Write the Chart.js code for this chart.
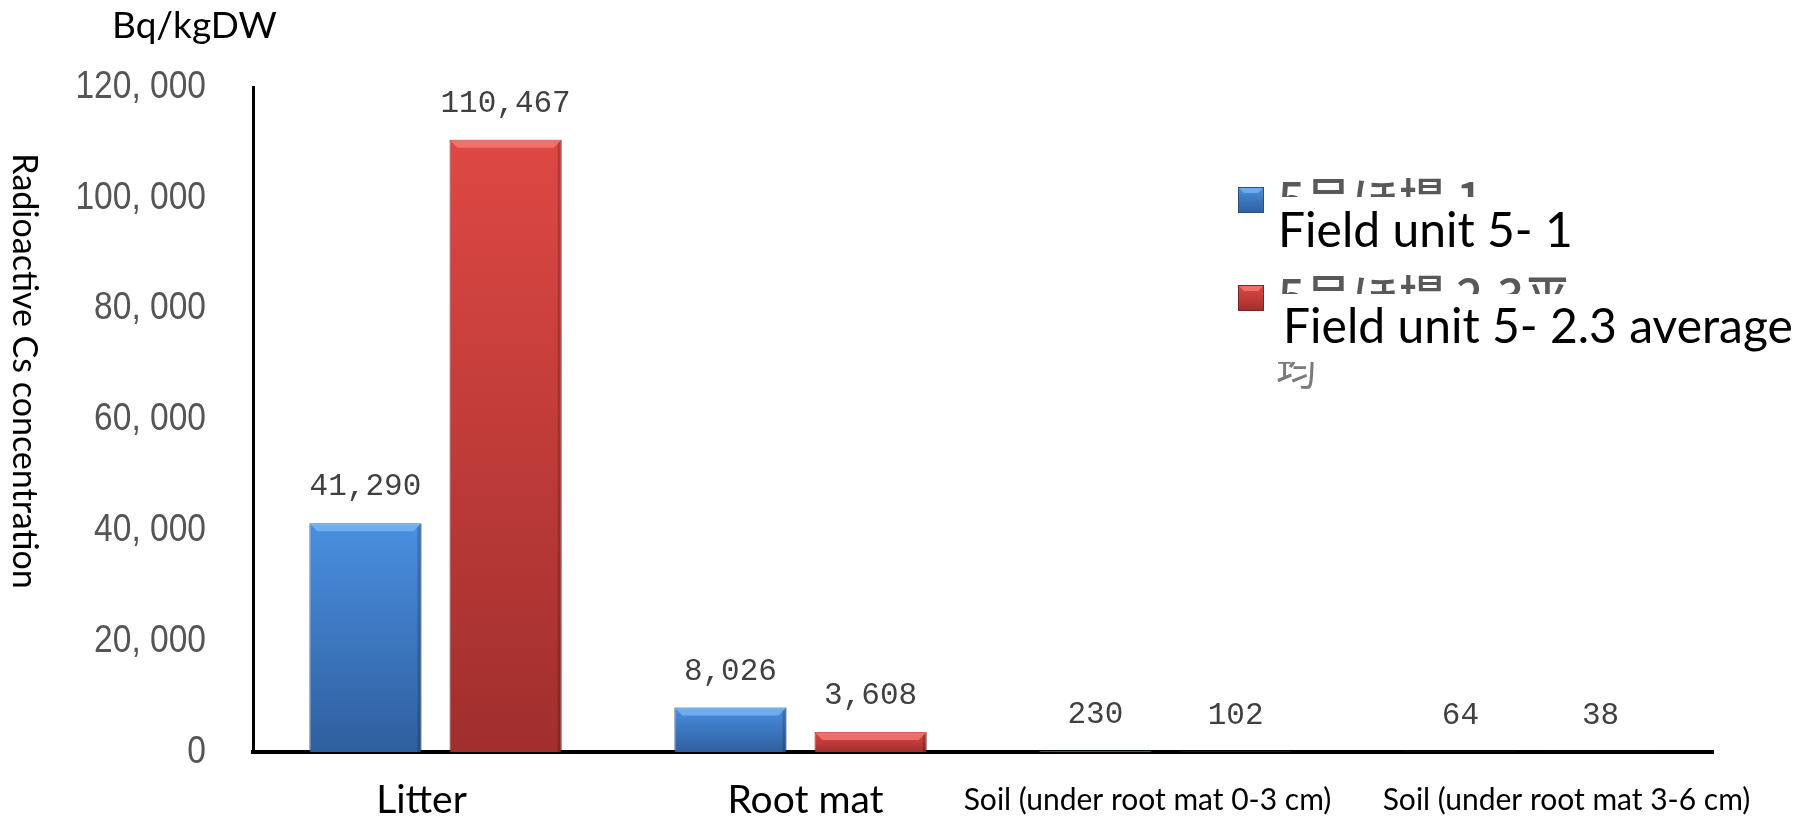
<!DOCTYPE html>
<html><head><meta charset="utf-8">
<script src="https://cdn.jsdelivr.net/npm/chart.js@4"></script>
<style>html,body{margin:0;padding:0;background:#fff;overflow:hidden}#wrap{width:1817px;height:818px;position:relative}</style>
</head><body><div id="wrap"><canvas id="c" width="1817" height="818" style="width:1817px;height:818px"></canvas></div>
<script>
const categories = ['Litter', 'Root mat', 'Soil (under root mat 0-3 cm)', 'Soil (under root mat 3-6 cm)'];
const seriesNames = ['Field unit 5- 1', 'Field unit 5- 2.3 average'];
const seriesNamesJa = ['5号ほ場 1', '5号ほ場 2.3平', '均'];
const field51 = [41290, 8026, 230, 64];
const field523avg = [110467, 3608, 102, 38];
const yTickValues = [0, 20000, 40000, 60000, 80000, 100000, 120000];
const unitLabel = 'Bq/kgDW';
const yTitle = 'Radioactive Cs concentration';

// styling only
const palettes = [
  {top: '#4a8fe0', bottom: '#2f5f9e', border: '#2b4f7e', hi: 'rgba(140,200,255,0.55)'},
  {top: '#de4844', bottom: '#a02f2d', border: '#7e2422', hi: 'rgba(255,140,135,0.6)'}
];
const xLabelStyle = [
  {font: "39px Lato, 'Open Sans', sans-serif", shift: -14},
  {font: "39px Lato, 'Open Sans', sans-serif", shift: 5},
  {font: "30px Lato, 'Open Sans', sans-serif", shift: -18},
  {font: "30px Lato, 'Open Sans', sans-serif", shift: 36}
];

function barGradient(ctx, p) {
  const chart = ctx.chart;
  const ys = chart.scales && chart.scales.y;
  if (!ys || ctx.type !== 'data' || ys.bottom === undefined) return p.top;
  const top = ys.getPixelForValue(ctx.raw);
  const base = ys.getPixelForValue(0);
  if (!isFinite(top) || !isFinite(base) || base - top < 1) return p.top;
  const g = chart.ctx.createLinearGradient(0, top, 0, base);
  g.addColorStop(0, p.top);
  g.addColorStop(1, p.bottom);
  return g;
}

const bevelPlugin = {
  id: 'bevel',
  afterDatasetsDraw(chart) {
    const c = chart.ctx;
    chart.data.datasets.forEach((ds, di) => {
      const meta = chart.getDatasetMeta(di);
      const p = palettes[di];
      meta.data.forEach(bar => {
        const {x, y, base, width} = bar.getProps(['x', 'y', 'base', 'width'], true);
        const h = base - y;
        if (h < 2) return;
        const l = x - width / 2, r = x + width / 2;
        const b = Math.min(8, h / 2);
        c.save();
        c.fillStyle = p.hi;
        c.beginPath();
        c.moveTo(l, y); c.lineTo(r, y); c.lineTo(r - b, y + b); c.lineTo(l + b, y + b); c.closePath();
        c.fill();
        c.fillStyle = 'rgba(0,0,0,0.18)';
        c.beginPath();
        c.moveTo(r, y); c.lineTo(r, base); c.lineTo(r - 4, base); c.lineTo(r - 4, y + 4); c.closePath();
        c.fill();
        c.restore();
      });
    });
  }
};

const labelPlugin = {
  id: 'valueLabels',
  afterDatasetsDraw(chart) {
    const c = chart.ctx;
    c.save();
    c.font = "31px 'Liberation Mono','DejaVu Sans Mono',monospace";
    c.fillStyle = '#404040';
    c.textAlign = 'center';
    c.textBaseline = 'middle';
    chart.data.datasets.forEach((ds, di) => {
      chart.getDatasetMeta(di).data.forEach((bar, i) => {
        const v = ds.data[i];
        c.fillText(v.toLocaleString('en-US'), bar.x, bar.y - 36);
      });
    });
    c.restore();
  }
};

// axis tick labels drawn from the library's scales (condensed look via horizontal scaling)
const axisLabelPlugin = {
  id: 'axisLabels',
  afterDraw(chart) {
    const c = chart.ctx;
    const ys = chart.scales.y, xs = chart.scales.x;
    c.save();
    c.fillStyle = '#555555';
    c.font = "39px 'Liberation Sans', sans-serif";
    c.textAlign = 'right';
    c.textBaseline = 'middle';
    ys.ticks.forEach(t => {
      const py = ys.getPixelForValue(t.value);
      const txt = t.value.toLocaleString('en-US').replace(',', ', ');
      c.save();
      c.translate(ys.right - 47, py);
      c.scale(0.86, 1);
      c.fillText(txt, 0, 0);
      c.restore();
    });
    c.fillStyle = '#000';
    c.textAlign = 'center';
    xs.ticks.forEach((t, i) => {
      const px = xs.getPixelForTick(i);
      c.font = xLabelStyle[i].font;
      c.fillText(categories[t.value], px + xLabelStyle[i].shift, ys.bottom + 48);
    });
    c.restore();
  }
};

const decorPlugin = {
  id: 'decor',
  afterDraw(chart) {
    const c = chart.ctx;
    c.save();
    c.fillStyle = '#000';
    c.font = "37px Lato, 'Open Sans', sans-serif";
    c.textAlign = 'left';
    c.textBaseline = 'middle';
    c.fillText(unitLabel, 112, 26);
    c.save();
    c.translate(24, 371);
    c.rotate(Math.PI / 2);
    c.textAlign = 'center';
    c.font = "34px Lato, 'Open Sans', sans-serif";
    c.fillText(yTitle, 0, 0);
    c.restore();
    const entries = [
      {mk: 187, jaTop: 176, jaClip: 197, txtY: 232, txtX: 1278},
      {mk: 285, jaTop: 273, jaClip: 294, txtY: 328, txtX: 1283}
    ];
    entries.forEach((e, i) => {
      const p = palettes[i];
      const mx = 1238, ms = 26;
      const g = c.createLinearGradient(0, e.mk, 0, e.mk + ms);
      g.addColorStop(0, p.top); g.addColorStop(1, p.bottom);
      c.fillStyle = g;
      c.fillRect(mx, e.mk, ms, ms);
      c.fillStyle = p.hi;
      c.beginPath();
      c.moveTo(mx, e.mk); c.lineTo(mx + ms, e.mk); c.lineTo(mx + ms - 6, e.mk + 6); c.lineTo(mx + 6, e.mk + 6); c.closePath(); c.fill();
      c.strokeStyle = p.border; c.lineWidth = 1;
      c.strokeRect(mx + 0.5, e.mk + 0.5, ms - 1, ms - 1);
      c.save();
      c.beginPath(); c.rect(1270, e.jaTop - 5, 420, e.jaClip - e.jaTop + 5); c.clip();
      c.fillStyle = '#595959';
      c.font = "500 47px 'Noto Sans CJK JP', sans-serif";
      c.textBaseline = 'top';
      c.textAlign = 'left';
      c.fillText(seriesNamesJa[i], 1278, e.jaTop);
      c.restore();
      c.fillStyle = '#000';
      c.font = "48px Lato, 'Open Sans', sans-serif";
      c.textBaseline = 'middle';
      c.textAlign = 'left';
      c.fillText(seriesNames[i], e.txtX, e.txtY);
    });
    c.save();
    c.beginPath(); c.rect(1270, 362, 60, 40); c.clip();
    c.fillStyle = '#7a7a7a';
    c.font = "40px 'Noto Sans CJK JP', sans-serif";
    c.textBaseline = 'top';
    c.textAlign = 'left';
    c.fillText(seriesNamesJa[2], 1276, 350);
    c.restore();
    c.restore();
  }
};

new Chart(document.getElementById('c'), {
  type: 'bar',
  data: {
    labels: categories,
    datasets: [
      {label: seriesNames[0], data: field51,
       backgroundColor: ctx => barGradient(ctx, palettes[0]), borderColor: palettes[0].border, borderWidth: 1,
       categoryPercentage: 0.768, barPercentage: 0.80},
      {label: seriesNames[1], data: field523avg,
       backgroundColor: ctx => barGradient(ctx, palettes[1]), borderColor: palettes[1].border, borderWidth: 1,
       categoryPercentage: 0.768, barPercentage: 0.80}
    ]
  },
  options: {
    responsive: false,
    maintainAspectRatio: false,
    animation: false,
    devicePixelRatio: 1,
    layout: {padding: {top: 87, right: 104, left: 0, bottom: 0}},
    plugins: {legend: {display: false}, tooltip: {enabled: false}, title: {display: false}},
    scales: {
      x: {
        grid: {display: false, drawTicks: false},
        border: {display: true, color: '#000', width: 4},
        ticks: {display: false, autoSkip: false, maxRotation: 0, minRotation: 0},
        afterFit: s => { s.height = 66; }
      },
      y: {
        min: 0, max: 120000,
        afterBuildTicks: s => { s.ticks = yTickValues.map(v => ({value: v})); },
        grid: {display: false, drawTicks: false},
        border: {display: true, color: '#000', width: 3},
        ticks: {display: false},
        afterFit: s => { s.width = 253; }
      }
    }
  },
  plugins: [bevelPlugin, labelPlugin, axisLabelPlugin, decorPlugin]
});
</script></body></html>
